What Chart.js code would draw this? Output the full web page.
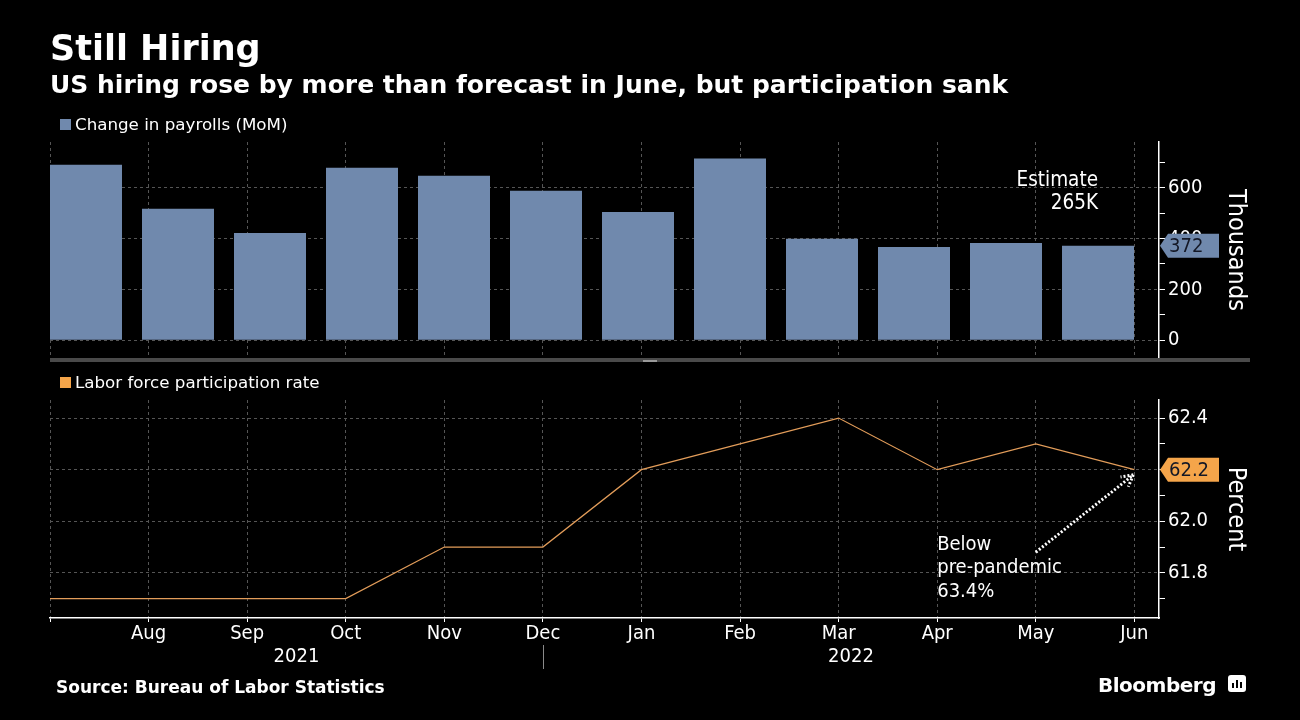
<!DOCTYPE html>
<html>
<head>
<meta charset="utf-8">
<script src="https://cdn.jsdelivr.net/npm/chart.js@4"></script>
<style>
  html, body { margin: 0; padding: 0; background: #000; width: 1300px; height: 720px; overflow: hidden; }
  canvas { position: absolute; left: 0; top: 0; }
  .txt { position: absolute; color: #fff; white-space: nowrap; line-height: 1; }
  .legend { position: absolute; display: flex; align-items: center; color: #fff; font: 16.7px 'DejaVu Sans', sans-serif; }
  .legend span.sw { width: 11px; height: 11px; margin-right: 4px; display: inline-block; }
  #sep { position: absolute; left: 50px; top: 358px; width: 1200px; height: 4px; background: #4a4a4a; }
  #handle { position: absolute; left: 643px; top: 360px; width: 14px; height: 2px; background: #9a9a9a; }
  #logo { position: absolute; left: 1228px; top: 675px; width: 18px; height: 17px; background: #fff; border-radius: 3px; }
  #logo i { position: absolute; bottom: 4px; width: 2px; background: #000; }
</style>
</head>
<body>
<canvas id="top" width="1300" height="720"></canvas>
<canvas id="bottom" width="1300" height="720"></canvas>

<div class="txt" style="left:50px;top:28px;font:bold 35px 'DejaVu Sans',sans-serif;">Still Hiring</div>
<div class="txt" style="left:50px;top:70px;font:bold 25px 'DejaVu Sans',sans-serif;">US hiring rose by more than forecast in June, but participation sank</div>
<div class="legend" style="left:60px;top:114px;"><span class="sw" style="background:#7089ad"></span>Change in payrolls (MoM)</div>
<div class="legend" style="left:60px;top:372px;"><span class="sw" style="background:#f5a54a"></span>Labor force participation rate</div>
<div id="sep"></div><div id="handle"></div>
<div class="txt" style="left:56px;top:677px;font:bold 17px 'DejaVu Sans',sans-serif;">Source: Bureau of Labor Statistics</div>
<div class="txt" style="left:1098px;top:673px;font:bold 20px 'DejaVu Sans',sans-serif;letter-spacing:-0.5px;">Bloomberg</div>
<div id="logo"><i style="left:4px;height:5px"></i><i style="left:8px;height:8px"></i><i style="left:12px;height:6px"></i></div>

<script>
// ---- data ----
const months = ['Jul', 'Aug', 'Sep', 'Oct', 'Nov', 'Dec', 'Jan', 'Feb', 'Mar', 'Apr', 'May', 'Jun'];
const payrolls = [690, 517, 422, 679, 647, 588, 505, 715, 399, 367, 383, 372];
const participation = [61.7, 61.7, 61.7, 61.7, 61.9, 61.9, 62.2, 62.3, 62.4, 62.2, 62.3, 62.2];
const payrollTicks = [0, 100, 200, 300, 400, 500, 600, 700];
const payrollLabels = [0, 200, 400, 600];
const rateTicks = [61.7, 61.8, 61.9, 62.0, 62.1, 62.2, 62.3, 62.4];
const rateLabels = [61.8, 62.0, 62.2, 62.4];
const years = [
    { label: '2021', from: 0, to: 5 },
    { label: '2022', from: 5, to: 11.25 }
];
const yearBreak = 5;
const estimateNote = ['Estimate', '265K'];
const belowNote = ['Below', 'pre-pandemic', '63.4%'];

// ---- style ----
const BLUE = '#7089ad';
const ORANGE = '#f5a54a';
const LINE = '#e39d5a';
const GRID = '#555555';
const FONT = "'DejaVu Sans Condensed', 'DejaVu Sans', sans-serif";

function drawTag(ctx, xLeft, yc, w, h, fill, text) {
    ctx.save();
    ctx.fillStyle = fill;
    ctx.beginPath();
    ctx.moveTo(xLeft, yc);
    ctx.lineTo(xLeft + 8, yc - h / 2);
    ctx.lineTo(xLeft + w, yc - h / 2);
    ctx.lineTo(xLeft + w, yc + h / 2);
    ctx.lineTo(xLeft + 8, yc + h / 2);
    ctx.closePath();
    ctx.fill();
    ctx.fillStyle = '#141826';
    ctx.font = '20px ' + FONT;
    ctx.textAlign = 'left';
    ctx.textBaseline = 'middle';
    ctx.fillText(text, xLeft + 9, yc + 1);
    ctx.restore();
}

// top panel extras: last-value tag and estimate note
const topDecor = {
    id: 'topDecor',
    afterDraw(chart) {
        const { ctx, scales: { x, y } } = chart;
        const last = payrolls[payrolls.length - 1];
        drawTag(ctx, y.left + 1, y.getPixelForValue(last), 59, 24, BLUE, String(last));

        ctx.save();
        ctx.fillStyle = '#fff';
        ctx.font = '20.5px ' + FONT;
        ctx.textAlign = 'right';
        ctx.textBaseline = 'middle';
        const ex = x.getPixelForValue(payrolls.length - 1);
        const ey = y.getPixelForValue(627);
        estimateNote.forEach((t, i) => ctx.fillText(t, ex, ey + i * 23));
        ctx.restore();
    }
};

// bottom panel extras: year row, tag, note and dotted arrow
const bottomDecor = {
    id: 'bottomDecor',
    afterDraw(chart) {
        const { ctx, scales: { x, y } } = chart;
        ctx.save();
        ctx.fillStyle = '#fff';
        ctx.font = '20px ' + FONT;
        ctx.textAlign = 'center';
        ctx.textBaseline = 'middle';
        years.forEach(yr => {
            ctx.fillText(yr.label, (x.getPixelForValue(yr.from) + x.getPixelForValue(yr.to)) / 2, 657);
        });
        const bx = Math.round(x.getPixelForValue(yearBreak)) + 0.5;
        ctx.strokeStyle = '#8a8a8a';
        ctx.lineWidth = 1;
        ctx.beginPath();
        ctx.moveTo(bx, 645);
        ctx.lineTo(bx, 669);
        ctx.stroke();

        // note
        ctx.textAlign = 'left';
        const nx = x.getPixelForValue(9);
        const ny = y.getPixelForValue(61.91);
        belowNote.forEach((t, i) => ctx.fillText(t, nx, ny + i * 23.5));

        // dotted arrow
        const x0 = x.getPixelForValue(10), y0 = y.getPixelForValue(61.88);
        const x1 = x.getPixelForValue(10.99), y1 = y.getPixelForValue(62.18);
        ctx.strokeStyle = '#fff';
        ctx.lineWidth = 3;
        ctx.setLineDash([2, 2]);
        ctx.beginPath();
        ctx.moveTo(x0, y0);
        ctx.lineTo(x1, y1);
        const ang = Math.atan2(y1 - y0, x1 - x0);
        [0.5, -0.5].forEach(d => {
            ctx.moveTo(x1, y1);
            ctx.lineTo(x1 - 13 * Math.cos(ang + d), y1 - 13 * Math.sin(ang + d));
        });
        ctx.stroke();
        ctx.setLineDash([]);
        ctx.restore();

        const last = participation[participation.length - 1];
        drawTag(ctx, y.left + 1, y.getPixelForValue(last), 59, 24, ORANGE, last.toFixed(1));
    }
};

// ---- top: payrolls bars ----
new Chart(document.getElementById('top'), {
    type: 'bar',
    data: {
        datasets: [{
            data: payrolls.map((v, i) => ({ x: i, y: v })),
            backgroundColor: BLUE,
            barPercentage: 0.7826,
            categoryPercentage: 1
        }]
    },
    options: {
        responsive: false,
        animation: false,
        layout: { padding: { left: 50, top: 142, right: 50, bottom: 362 } },
        plugins: { legend: { display: false }, tooltip: { enabled: false } },
        scales: {
            x: { type: 'linear', offset: false, min: -0.3913, max: 11.663, display: false },
            xm: {
                type: 'linear', position: 'bottom', offset: false, min: 0, max: 11.25,
                afterBuildTicks: s => { s.ticks = months.map((m, i) => ({ value: i })); },
                ticks: { display: false },
                grid: { color: GRID, drawTicks: false, offset: false },
                border: { display: false, dash: [3, 3] },
                afterFit: s => { s.height = 0; }
            },
            y: {
                position: 'right', min: -70, max: 780,
                afterBuildTicks: s => { s.ticks = payrollTicks.map(v => ({ value: v })); },
                ticks: {
                    color: '#fff', padding: 3, font: { family: FONT, size: 20 },
                    callback: v => payrollLabels.includes(v) ? String(v) : ''
                },
                grid: {
                    color: c => (c.tick && payrollLabels.includes(c.tick.value)) ? GRID : 'rgba(0,0,0,0)',
                    tickColor: '#fff', tickLength: 6
                },
                border: { color: '#fff', width: 1.5, dash: [3, 3] },
                title: { display: true, text: 'Thousands', color: '#fff', font: { family: FONT, size: 25 }, padding: 0 },
                afterFit: s => { s.width = 91; }
            }
        }
    },
    plugins: [topDecor]
});

// ---- bottom: participation line ----
new Chart(document.getElementById('bottom'), {
    type: 'line',
    data: {
        datasets: [{
            data: participation.map((v, i) => ({ x: i, y: v })),
            borderColor: LINE,
            borderWidth: 1.2,
            pointRadius: 0,
            tension: 0
        }]
    },
    options: {
        responsive: false,
        animation: false,
        layout: { padding: { left: 50, top: 400, right: 50, bottom: 62 } },
        plugins: { legend: { display: false }, tooltip: { enabled: false } },
        scales: {
            x: {
                type: 'linear', min: 0, max: 11.25,
                afterBuildTicks: s => { s.ticks = months.map((m, i) => ({ value: i })); },
                ticks: {
                    color: '#fff', padding: 0, maxRotation: 0, autoSkip: false,
                    font: { family: FONT, size: 20 },
                    callback: v => v === 0 ? '' : months[v]
                },
                grid: { color: GRID, tickColor: '#fff', tickLength: 4 },
                border: { color: '#fff', width: 1.5, dash: [3, 3] },
                afterFit: s => { s.height = 40; }
            },
            y: {
                position: 'right', min: 61.625, max: 62.47,
                afterBuildTicks: s => { s.ticks = rateTicks.map(v => ({ value: v })); },
                ticks: {
                    color: '#fff', padding: 3, font: { family: FONT, size: 20 },
                    callback: v => rateLabels.includes(v) ? v.toFixed(1) : ''
                },
                grid: {
                    color: c => (c.tick && rateLabels.includes(c.tick.value)) ? GRID : 'rgba(0,0,0,0)',
                    tickColor: '#fff', tickLength: 6
                },
                border: { color: '#fff', width: 1.5, dash: [3, 3] },
                title: { display: true, text: 'Percent', color: '#fff', font: { family: FONT, size: 25 }, padding: 0 },
                afterFit: s => { s.width = 91; }
            }
        }
    },
    plugins: [bottomDecor]
});
</script>
</body>
</html>
